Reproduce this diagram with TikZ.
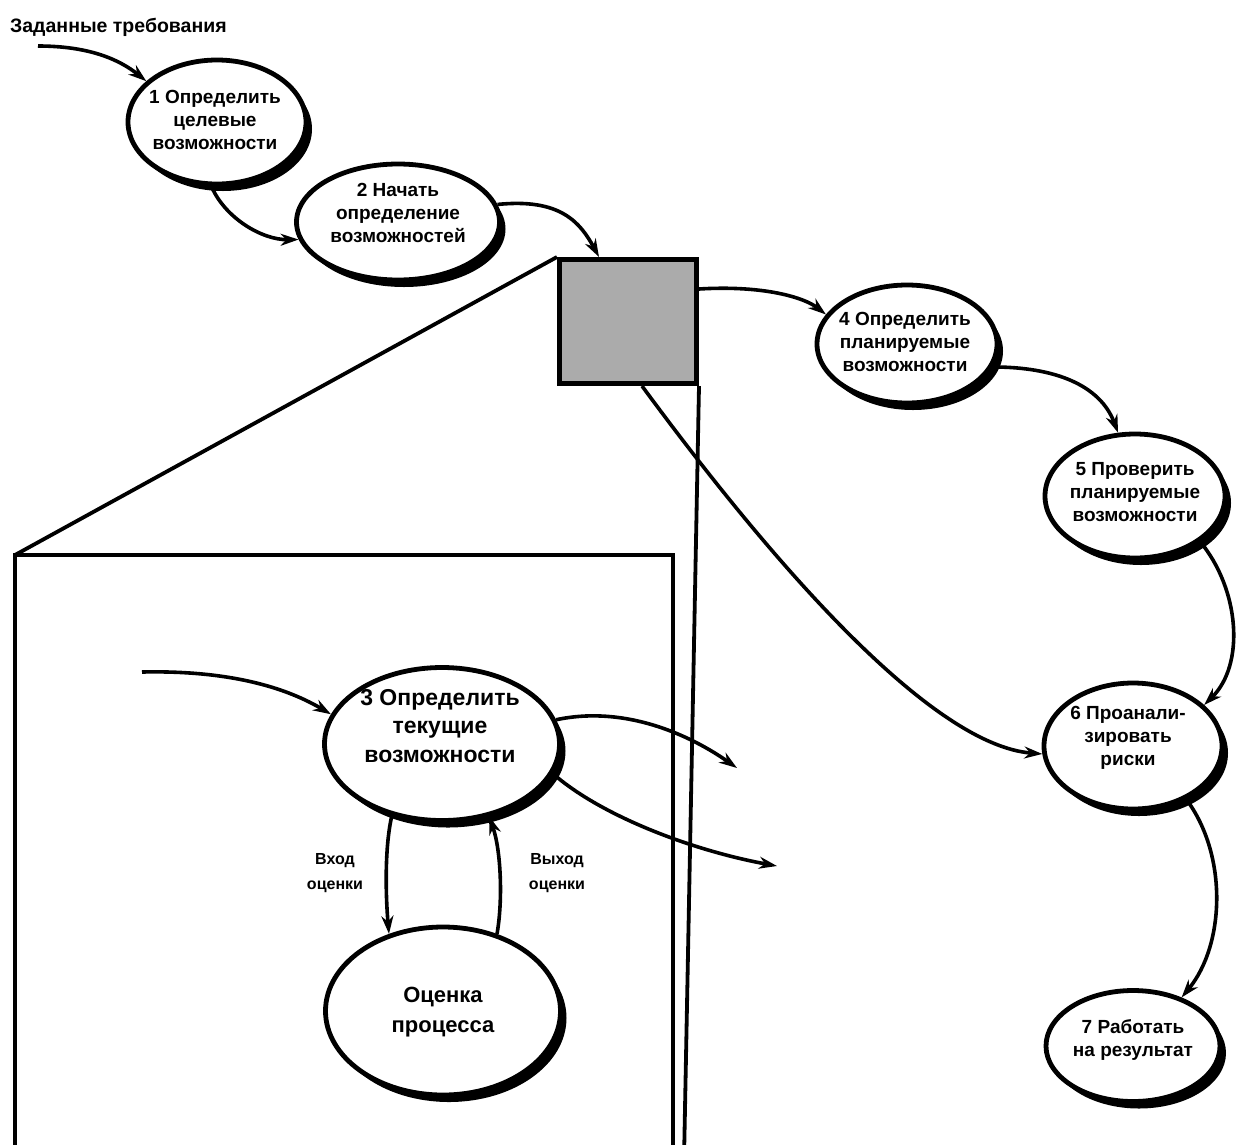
\documentclass[tikz,border=0pt]{standalone}
\usepackage{fontspec}
\setmainfont{Liberation Sans}
\usetikzlibrary{shapes.geometric,shadows,arrows.meta,calc}
\begin{document}
\begin{tikzpicture}[x=1pt,y=1pt,
  ell/.style={ellipse, draw, line width=4.8pt, fill=white, inner sep=0pt,
     drop shadow={shadow xshift=6pt, shadow yshift=-7pt, fill=black, opacity=1}},
  etext/.style={align=center, font=\bfseries\fontsize{19}{23}\selectfont, inner sep=0pt},
  btext/.style={align=center, font=\bfseries\fontsize{23}{28.5}\selectfont, inner sep=0pt},
  lbl/.style={align=center, font=\bfseries\fontsize{16}{25}\selectfont, inner sep=0pt},
  conn/.style={line width=3.6pt, -{Stealth[length=18pt,width=12pt]}},
  frame/.style={line width=3.8pt},
]
\useasboundingbox (0,0) rectangle (1239,-1144);
\clip (0,0) rectangle (1239,-1144);

% zoom frame
\coordinate (boxTL) at (15,-555);
\coordinate (boxTR) at (673,-555);
\coordinate (boxBL) at (15,-1160);
\coordinate (boxBR) at (673,-1160);
\coordinate (projB) at (684,-1160);
\draw[frame] (boxBL) -- (boxTL) -- (boxTR) -- (boxBR);

% gray square
\node[draw, line width=5pt, fill=black!33, minimum width=137pt, minimum height=124pt, inner sep=0pt] (sq) at (628,-321.5) {};
\draw[frame] (sq.north west) -- (boxTL);
\draw[frame] (sq.south east) -- (projB);

% ellipses
\node[ell, minimum width=178pt, minimum height=124pt] (E1) at (217,-122) {};
\node[ell, minimum width=203pt, minimum height=116pt] (E2) at (398,-222) {};
\node[ell, minimum width=180pt, minimum height=118pt] (E4) at (907,-344) {};
\node[ell, minimum width=180pt, minimum height=124pt] (E5) at (1135,-496) {};
\node[ell, minimum width=178pt, minimum height=126pt] (E6) at (1133,-746) {};
\node[ell, minimum width=174pt, minimum height=111pt] (E7) at (1133,-1046) {};
\node[ell, minimum width=235pt, minimum height=153pt] (E3) at (442,-744) {};
\node[ell, minimum width=235pt, minimum height=168pt] (EO) at (443,-1011) {};

% texts
\node[etext] (E1t) at (215,-120) {1 Определить\\целевые\\возможности};
\node[etext] (E2t) at (398,-213) {2 Начать\\определение\\возможностей};
\node[etext] (E4t) at (905,-342) {4 Определить\\планируемые\\возможности};
\node[etext] (E5t) at (1135,-492) {5 Проверить\\планируемые\\возможности};
\node[etext] (E6t) at (1128,-738) {6 Проанали-\\зировать\\риски};
\node[etext] (E7t) at (1133,-1040) {7 Работать\\на результат};
\node[btext] (E3t) at (440,-726) {3 Определить\\текущие\\возможности};
\node[btext, font=\bfseries\fontsize{22}{30}\selectfont] (EOt) at (443,-1012) {Оценка\\процесса};

\node[anchor=west, inner sep=0pt, font=\bfseries\fontsize{19.5}{22}\selectfont] (req) at (10,-27) {Заданные требования};
\node[lbl] (inL) at (335,-873) {Вход\\оценки};
\node[lbl] (outL) at (557,-873) {Выход\\оценки};

% connectors
\coordinate (in1) at (38,-46);
\coordinate (in2) at (142,-672);
\coordinate (o1) at (737,-768);
\coordinate (o2) at (777,-866);

\draw[conn] (in1) .. controls (90,-46) and (120,-60) .. (E1.150);
\draw[conn] (E1.265) .. controls (225,-218) and (262,-240) .. (E2.190);
\draw[conn] (E2.10) .. controls (560,-198) and (580,-222) .. ($(sq.north west)+(42,0)$);
\draw[conn] ($(sq.north east)+(0,-32)$) .. controls (765,-285) and (805,-298) .. (E4.160);
\draw[conn] (E4.-15) .. controls (1055,-367) and (1100,-385) .. (E5.105);
\draw[conn] (E5.-35) .. controls (1240,-590) and (1245,-665) .. (E6.30);
\draw[conn] (E6.-45) .. controls (1228,-855) and (1225,-945) .. (E7.45);
\draw[conn] ($(sq.south west)+(85,0)$) .. controls (770,-560) and (930,-745) .. (E6.185);
\draw[conn] (in2) .. controls (235,-670) and (290,-690) .. (E3.165);
\draw[conn] (E3.12) .. controls (625,-705) and (690,-735) .. (o1);
\draw[conn] (E3.-15) .. controls (600,-815) and (690,-850) .. (o2);
\draw[conn] (E3.235) .. controls (384,-850) and (386,-900) .. (EO.125);
\draw[conn] (EO.55) .. controls (503,-900) and (501,-850) .. (E3.303);
\end{tikzpicture}
\end{document}
